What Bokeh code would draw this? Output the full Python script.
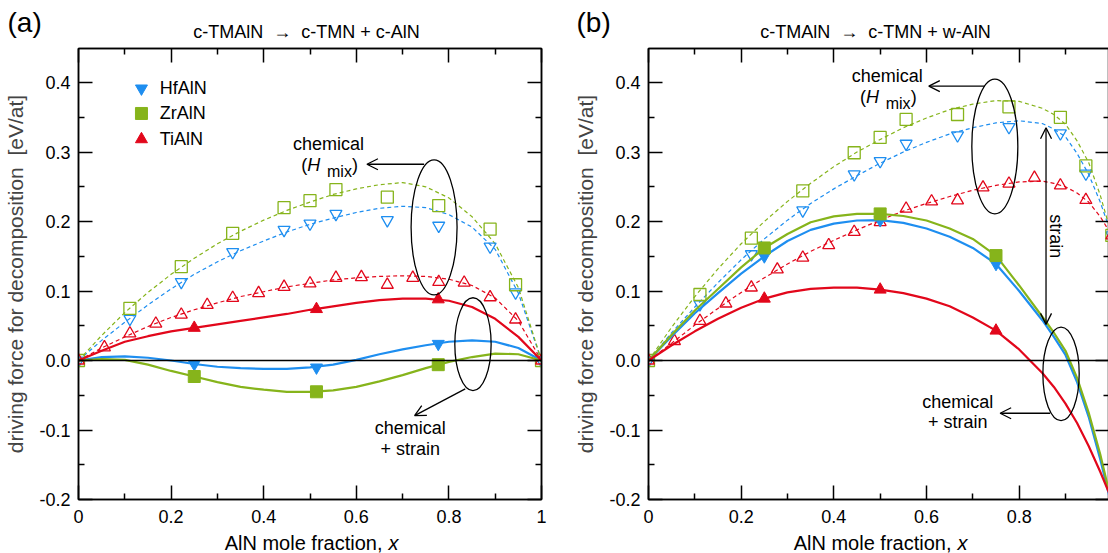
from bokeh.plotting import figure
from bokeh.layouts import row, column
from bokeh.models import Range1d, FixedTicker, LinearAxis, Span, Label, Arrow, OpenHead
from bokeh.embed import file_html
from bokeh.resources import INLINE
import math

FONT = "Liberation Sans"
BLUE = "#1e8ef0"
GREEN = "#86b41b"
RED = "#e2071b"

SERIES = ["HfAlN", "ZrAlN", "TiAlN"]
COLORS = [BLUE, GREEN, RED]
MARKERS = ["inverted_triangle", "square", "triangle"]

X_TICKS = [0, 0.2, 0.4, 0.6, 0.8, 1.0]
X_TICK_LABELS = ["0", "0.2", "0.4", "0.6", "0.8", "1"]
X_MINOR = [0.1, 0.3, 0.5, 0.7, 0.9]
Y_TICKS = [-0.2, -0.1, 0.0, 0.1, 0.2, 0.3, 0.4]
Y_TICK_LABELS = ["-0.2", "-0.1", "0.0", "0.1", "0.2", "0.3", "0.4"]
Y_MINOR = [-0.15, -0.05, 0.05, 0.15, 0.25, 0.35]

X_LABEL = "AlN mole fraction,"
X_LABEL_VAR = "x"
Y_LABEL = "driving force for decomposition\u00a0 [eV/at]"
TITLES = ["c-TMAlN\u00a0 \u2192 \u00a0c-TMN + c-AlN", "c-TMAlN\u00a0 \u2192 \u00a0c-TMN + w-AlN"]
PANEL_TAGS = ["(a)", "(b)"]

# ---------------- panel (a): c-TMAlN -> c-TMN + c-AlN ----------------
A_X_CURVE = [0, 0.05, 0.1, 0.15, 0.2, 0.25, 0.3, 0.35, 0.4, 0.45, 0.5,
             0.55, 0.6, 0.65, 0.7, 0.75, 0.8, 0.85, 0.9, 0.95, 1.0]

A_X_OPEN = [0, 0.111, 0.222, 0.333, 0.444, 0.5, 0.556, 0.667, 0.778, 0.889, 0.944, 1.0]
A_HF_OPEN = [0, 0.060, 0.113, 0.156, 0.188, 0.197, 0.211, 0.202, 0.194, 0.164, 0.098, 0]
A_ZR_OPEN = [0, 0.075, 0.135, 0.183, 0.220, 0.230, 0.246, 0.235, 0.223, 0.189, 0.109, 0]
A_X_TI_OPEN = [0, 0.056, 0.111, 0.167, 0.222, 0.278, 0.333, 0.389, 0.444, 0.5,
               0.556, 0.611, 0.667, 0.722, 0.778, 0.833, 0.889, 0.944, 1.0]
A_TI_OPEN = [0, 0.019, 0.039, 0.053, 0.066, 0.080, 0.090, 0.097, 0.106, 0.111,
             0.119, 0.120, 0.109, 0.119, 0.113, 0.112, 0.091, 0.059, 0]

A_X_FILLED = [0.25, 0.514, 0.777]
A_HF_FILLED = [-0.005, -0.010, 0.024]
A_ZR_FILLED = [-0.023, -0.045, -0.006]
A_TI_FILLED = [0.047, 0.074, 0.088]

A_HF_SOLID = [0, 0.005, 0.006, 0.004, 0.0, -0.005, -0.009, -0.011, -0.012, -0.012, -0.010,
              -0.006, 0.001, 0.009, 0.016, 0.022, 0.027, 0.029, 0.027, 0.018, 0]
A_ZR_SOLID = [0, 0.002, 0.001, -0.006, -0.015, -0.023, -0.031, -0.038, -0.042, -0.045, -0.045,
              -0.043, -0.038, -0.030, -0.021, -0.011, -0.002, 0.005, 0.010, 0.009, 0]
A_TI_SOLID = [0, 0.014, 0.027, 0.035, 0.042, 0.047, 0.052, 0.057, 0.062, 0.067, 0.073,
              0.078, 0.083, 0.087, 0.089, 0.089, 0.086, 0.077, 0.060, 0.034, 0]

A_HF_DASH = [0, 0.029, 0.055, 0.080, 0.103, 0.124, 0.142, 0.158, 0.172, 0.185, 0.196,
             0.205, 0.213, 0.219, 0.222, 0.220, 0.210, 0.192, 0.160, 0.097, 0]
A_ZR_DASH = [0, 0.036, 0.069, 0.098, 0.124, 0.147, 0.168, 0.186, 0.202, 0.216, 0.228,
             0.239, 0.247, 0.253, 0.256, 0.250, 0.234, 0.207, 0.168, 0.105, 0]
A_TI_DASH = [0, 0.018, 0.034, 0.049, 0.062, 0.073, 0.083, 0.092, 0.099, 0.106, 0.111,
             0.116, 0.119, 0.121, 0.122, 0.121, 0.117, 0.108, 0.090, 0.057, 0]

# ---------------- panel (b): c-TMAlN -> c-TMN + w-AlN ----------------
B_X_CURVE = [0, 0.05, 0.1, 0.15, 0.2, 0.25, 0.3, 0.35, 0.4, 0.45, 0.5, 0.55, 0.6,
             0.65, 0.7, 0.75, 0.8, 0.85, 0.875, 0.9, 0.925, 0.95, 0.975, 1.0]

B_X_OPEN = [0, 0.111, 0.222, 0.333, 0.444, 0.5, 0.556, 0.667, 0.778, 0.889, 0.944, 1.0]
B_HF_OPEN = [0, 0.081, 0.153, 0.216, 0.268, 0.287, 0.312, 0.324, 0.336, 0.327, 0.269, 0.180]
B_ZR_OPEN = [0, 0.095, 0.176, 0.244, 0.299, 0.321, 0.347, 0.354, 0.365, 0.350, 0.280, 0.180]
B_X_TI_OPEN = [0, 0.056, 0.111, 0.167, 0.222, 0.278, 0.333, 0.389, 0.444, 0.5,
               0.556, 0.611, 0.667, 0.722, 0.778, 0.833, 0.889, 0.944, 1.0]
B_TI_OPEN = [0, 0.028, 0.057, 0.082, 0.105, 0.131, 0.148, 0.166, 0.185, 0.199,
             0.2185, 0.229, 0.2305, 0.249, 0.2545, 0.263, 0.252, 0.231, 0.180]

B_X_FILLED = [0.25, 0.5, 0.75]
B_HF_FILLED = [0.150, 0.202, 0.139]
B_ZR_FILLED = [0.162, 0.211, 0.151]
B_TI_FILLED = [0.089, 0.102, 0.043]

B_HF_SOLID = [0, 0.035, 0.068, 0.097, 0.125, 0.150, 0.172, 0.188, 0.197, 0.2015, 0.202, 0.198,
              0.190, 0.178, 0.162, 0.139, 0.100, 0.058, 0.034, 0.008, -0.031, -0.081, -0.142, -0.210]
B_ZR_SOLID = [0, 0.037, 0.072, 0.103, 0.134, 0.162, 0.182, 0.199, 0.2075, 0.211, 0.211, 0.208,
              0.2015, 0.190, 0.175, 0.151, 0.108, 0.063, 0.040, 0.014, -0.025, -0.075, -0.135, -0.205]
B_TI_SOLID = [0, 0.022, 0.042, 0.060, 0.076, 0.089, 0.098, 0.103, 0.105, 0.105, 0.102, 0.097,
              0.089, 0.078, 0.062, 0.043, 0.016, -0.018, -0.038, -0.062, -0.090, -0.123, -0.160, -0.200]

B_HF_DASH = [0, 0.040, 0.077, 0.112, 0.145, 0.175, 0.202, 0.226, 0.247, 0.266, 0.284, 0.300,
             0.314, 0.326, 0.335, 0.342, 0.345, 0.341, 0.333, 0.322, 0.298, 0.268, 0.228, 0.180]
B_ZR_DASH = [0, 0.048, 0.092, 0.132, 0.168, 0.200, 0.229, 0.255, 0.279, 0.300, 0.318, 0.335,
             0.349, 0.361, 0.369, 0.374, 0.373, 0.363, 0.354, 0.340, 0.316, 0.285, 0.238, 0.180]
B_TI_DASH = [0, 0.025, 0.051, 0.075, 0.098, 0.119, 0.139, 0.157, 0.173, 0.188, 0.202, 0.215,
             0.226, 0.236, 0.245, 0.252, 0.257, 0.258, 0.255, 0.250, 0.241, 0.228, 0.207, 0.180]

# ---------------- layout constants (pixels) ----------------
HEADER_H = 46
FOOTER_H = 22
FRAME_H = 451
Y_RANGE = (-0.2, 0.449)


def style_axis(ax, ticks, labels, minor, show, standoff=8):
    ax.ticker = FixedTicker(ticks=ticks, minor_ticks=minor)
    if show:
        ax.major_label_overrides = dict(zip(ticks, labels))
        ax.major_label_standoff = standoff
    else:
        ax.major_label_overrides = {t: "" for t in ticks}
        ax.major_label_standoff = 0
    ax.major_tick_in = 14
    ax.major_tick_out = 0
    ax.minor_tick_in = 6
    ax.minor_tick_out = 0
    ax.major_tick_line_width = 1.5
    ax.minor_tick_line_width = 1.5
    ax.major_tick_line_color = "black"
    ax.minor_tick_line_color = "black"
    ax.axis_line_width = 1.5
    ax.axis_line_color = "black"
    ax.major_label_text_font = FONT
    ax.major_label_text_font_size = "18px"
    ax.major_label_text_color = "black"


def text(p, x, y, t, size="18px", align="center", style="normal", angle=0.0, xo=0, yo=0):
    p.add_layout(Label(x=x, y=y, text=t, text_font=FONT, text_font_size=size,
                       text_align=align, text_baseline="middle", text_font_style=style,
                       angle=angle, x_offset=xo, y_offset=yo, text_color="black"))


def arrow(p, x0, y0, x1, y1, both=False):
    p.add_layout(Arrow(end=OpenHead(size=11, line_width=1.3, line_color="black"),
                       start=OpenHead(size=11, line_width=1.3, line_color="black") if both else None,
                       x_start=x0, y_start=y0, x_end=x1, y_end=y1,
                       line_width=1.3, line_color="black"))


def chem_label(p, cx, cy):
    text(p, cx, cy, "chemical")
    text(p, cx, cy, "(", align="left", xo=-27.3, yo=-21)
    text(p, cx, cy, "H", align="left", style="italic", xo=-21.3, yo=-21)
    text(p, cx, cy, "mix", size="16px", align="left", xo=-1.5, yo=-27.5)
    text(p, cx, cy, ")", align="left", xo=23.5, yo=-21)


def strip(width, height):
    """A plain text strip (no axes) whose frame is the whole canvas; units are pixels."""
    s = figure(width=width, height=height, x_range=Range1d(0, width), y_range=Range1d(height, 0),
               min_border=0, x_axis_location=None, y_axis_location=None,
               output_backend="svg", toolbar_location=None)
    s.frame_align = False
    s.grid.visible = False
    s.outline_line_color = None
    s.background_fill_color = "white"
    s.border_fill_color = "white"
    return s


def build_panel(x_end, left, right, frame_w, x_curve, dash, opens, solid, filled):
    p = figure(frame_width=frame_w, frame_height=FRAME_H,
               x_range=Range1d(0, x_end), y_range=Range1d(*Y_RANGE),
               min_border_left=left, min_border_right=right,
               min_border_top=2, min_border_bottom=32,
               output_backend="svg", toolbar_location=None)
    p.frame_align = False
    p.grid.visible = False
    p.outline_line_color = "black"
    p.outline_line_width = 1.5
    p.background_fill_color = "white"
    p.border_fill_color = "white"

    top = LinearAxis()
    rgt = LinearAxis()
    p.add_layout(top, "above")
    p.add_layout(rgt, "right")
    style_axis(p.below[0], X_TICKS, X_TICK_LABELS, X_MINOR, True, standoff=10)
    style_axis(top, X_TICKS, X_TICK_LABELS, X_MINOR, False)
    style_axis(p.left[0], Y_TICKS, Y_TICK_LABELS, Y_MINOR, True)
    style_axis(rgt, Y_TICKS, Y_TICK_LABELS, Y_MINOR, False)

    yax = p.left[0]
    yax.axis_label = Y_LABEL
    yax.axis_label_text_font = FONT
    yax.axis_label_text_font_size = "21px"
    yax.axis_label_text_font_style = "normal"
    yax.axis_label_standoff = 9

    p.add_layout(Span(location=0, dimension="width", line_color="black", line_width=1.3))

    # chemical (H_mix): dashed fits and open symbols
    for ys, c in zip(dash, COLORS):
        p.line(x_curve, ys, line_color=c, line_width=1.2, line_dash="4 3")
    for (xs, ys), c, m in zip(opens, COLORS, MARKERS):
        p.scatter(xs, ys, marker=m, size=12, fill_color=None, line_color=c, line_width=1.3)
    # chemical + strain: solid fits and filled symbols
    for ys, c in zip(solid, COLORS):
        p.line(x_curve, ys, line_color=c, line_width=2.2)
    for (xs, ys), c, m in zip(filled, COLORS, MARKERS):
        p.scatter(xs, ys, marker=m, size=12, fill_color=c, line_color=c, line_width=1)
    return p


# ---------------- panel (a) ----------------
pa = build_panel(
    1.0, 78, 30, 463, A_X_CURVE,
    [A_HF_DASH, A_ZR_DASH, A_TI_DASH],
    [(A_X_OPEN, A_HF_OPEN), (A_X_OPEN, A_ZR_OPEN), (A_X_TI_OPEN, A_TI_OPEN)],
    [A_HF_SOLID, A_ZR_SOLID, A_TI_SOLID],
    [(A_X_FILLED, A_HF_FILLED), (A_X_FILLED, A_ZR_FILLED), (A_X_FILLED, A_TI_FILLED)],
)
# legend
LEG_X = 0.136
LEG_Y = [0.3915, 0.3555, 0.3184]
for name, c, m, ly in zip(SERIES, COLORS, MARKERS, LEG_Y):
    pa.scatter([LEG_X], [ly], marker=m, size=12, fill_color=c, line_color=c)
    text(pa, 0.1755, ly, name, align="left")
# annotations (a)
pa.ellipse(x=[0.768, 0.852], y=[0.1916, 0.0235], width=[0.0993, 0.0784], height=[0.1945, 0.1336],
           fill_color=None, line_color="black", line_width=1.3)
chem_label(pa, 0.540, 0.3122)
arrow(pa, 0.7465, 0.2824, 0.623, 0.2824)
arrow(pa, 0.8353, -0.0408, 0.7259, -0.0793)
text(pa, 0.7166, -0.0975, "chemical")
text(pa, 0.7166, -0.1273, "+ strain")

# ---------------- panel (b) ----------------
pb = build_panel(
    0.995, 76, 0, 461, B_X_CURVE,
    [B_HF_DASH, B_ZR_DASH, B_TI_DASH],
    [(B_X_OPEN, B_HF_OPEN), (B_X_OPEN, B_ZR_OPEN), (B_X_TI_OPEN, B_TI_OPEN)],
    [B_HF_SOLID, B_ZR_SOLID, B_TI_SOLID],
    [(B_X_FILLED, B_HF_FILLED), (B_X_FILLED, B_ZR_FILLED), (B_X_FILLED, B_TI_FILLED)],
)
pb.ellipse(x=[0.7475, 0.8904], y=[0.308, -0.0192], width=[0.0993, 0.0784], height=[0.194, 0.1345],
           fill_color=None, line_color="black", line_width=1.3)
chem_label(pb, 0.5152, 0.4092)
arrow(pb, 0.7259, 0.3948, 0.605, 0.3948)
arrow(pb, 0.858, 0.052, 0.858, 0.335, both=True)
text(pb, 0.879, 0.1787, "strain", angle=-math.pi / 2)
arrow(pb, 0.8668, -0.0759, 0.759, -0.0759)
text(pb, 0.6676, -0.0601, "chemical")
text(pb, 0.6676, -0.0888, "+ strain")

# ---------------- headers (panel tag + title) and footers (x-axis label) ----------------
ha = strip(571, HEADER_H)
text(ha, 7, 22, PANEL_TAGS[0], size="28px", align="left")
text(ha, 306, 31, TITLES[0], size="18px")
hb = strip(537, HEADER_H)
text(hb, 5, 22, PANEL_TAGS[1], size="28px", align="left")
text(hb, 304, 31, TITLES[1], size="18px")

fa = strip(571, FOOTER_H)
text(fa, 382, 11, X_LABEL, size="20px", align="right")
text(fa, 388, 11, X_LABEL_VAR, size="20px", align="left", style="italic")
fb = strip(537, FOOTER_H)
text(fb, 380, 11, X_LABEL, size="20px", align="right")
text(fb, 386, 11, X_LABEL_VAR, size="20px", align="left", style="italic")

layout = row(column(ha, pa, fa), column(hb, pb, fb))
open("out.html", "w").write(file_html(layout, INLINE, title="Driving force for decomposition"))
